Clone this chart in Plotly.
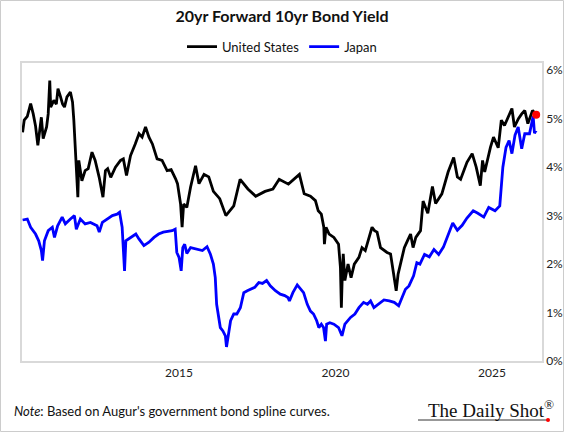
import plotly.graph_objects as go

# ---------------- data ----------------
us_dates = [
    "2010-01-01","2010-01-20","2010-02-25","2010-04-05","2010-05-05","2010-06-01","2010-06-28","2010-07-23",
    "2010-08-08","2010-08-29","2010-10-08","2010-10-27","2010-11-14","2010-11-25","2011-01-01","2011-01-30",
    "2011-02-18","2011-03-15","2011-04-13","2011-05-05","2011-06-03","2011-07-13","2011-08-07","2011-08-22",
    "2011-09-13","2011-10-08","2011-10-19","2011-11-24","2012-01-01","2012-02-06","2012-03-21","2012-04-27",
    "2012-06-13","2012-07-27","2012-08-25","2012-09-20","2012-10-26","2012-12-20","2013-02-17","2013-03-22",
    "2013-04-28","2013-06-14","2013-08-08","2013-09-21","2013-10-27","2013-12-06","2014-01-15","2014-02-24",
    "2014-04-20","2014-06-17","2014-08-15","2014-10-01","2014-11-22","2014-12-14","2015-01-19","2015-02-06",
    "2015-02-24","2015-04-02","2015-05-16","2015-07-13","2015-08-22","2015-10-20","2015-12-14","2016-02-06",
    "2016-04-20","2016-07-01","2016-10-01","2016-12-14","2017-03-15","2017-06-14","2017-10-01","2018-01-01",
    "2018-03-15","2018-07-01","2018-11-06","2019-01-01","2019-03-15","2019-05-12","2019-06-14","2019-07-20",
    "2019-08-18","2019-08-25","2019-09-13","2019-10-19","2019-12-14","2020-02-06","2020-02-28","2020-03-10",
    "2020-03-21","2020-04-01","2020-04-20","2020-05-27","2020-07-01","2020-08-08","2020-10-01","2020-11-06",
    "2020-12-14","2021-01-26","2021-03-03","2021-04-01","2021-05-01","2021-06-10","2021-07-20","2021-08-25",
    "2021-10-05","2021-11-06","2021-12-10","2022-01-01","2022-02-06","2022-03-15","2022-04-20","2022-05-27",
    "2022-06-25","2022-07-27","2022-09-20","2022-10-20","2022-12-14","2023-02-06","2023-03-15","2023-05-27",
    "2023-08-08","2023-10-12","2023-11-24","2024-01-01","2024-03-15","2024-05-15","2024-07-01","2024-08-18",
    "2024-09-13","2024-10-08","2024-12-14","2025-01-19","2025-03-15","2025-04-20","2025-05-27","2025-08-22",
    "2025-09-20","2025-11-06","2025-12-14","2026-01-19","2026-02-24","2026-04-20","2026-06-01",
]
us_values = [
    4.72,4.97,5.05,5.31,5.10,4.85,4.45,4.75,
    5.03,4.59,4.83,5.10,5.79,5.24,5.38,5.30,
    5.62,5.48,5.30,5.24,5.45,5.55,5.34,4.97,
    4.21,3.38,4.14,3.72,3.93,3.97,4.31,4.14,
    3.79,3.38,3.93,3.97,3.79,4.00,4.14,4.17,
    3.83,4.24,4.48,4.69,4.62,4.83,4.62,4.48,
    4.17,4.14,3.93,3.95,3.76,3.66,3.24,2.76,
    3.24,3.17,3.59,4.03,3.66,3.85,3.80,3.50,
    3.35,3.00,3.20,3.75,3.55,3.40,3.50,3.55,
    3.75,3.65,3.85,3.45,3.40,3.31,3.10,3.03,
    2.76,2.41,2.76,2.62,2.55,2.41,1.93,1.10,
    1.79,2.21,1.66,2.00,1.72,2.00,2.14,2.34,
    2.28,2.55,2.76,2.69,2.66,2.34,2.28,2.24,
    2.21,1.86,1.45,1.79,2.07,2.34,2.48,2.62,
    2.34,2.55,2.69,3.30,3.05,3.60,3.25,3.45,
    3.90,4.20,3.80,3.75,4.10,4.28,4.00,3.62,
    4.14,3.90,4.41,4.62,4.40,4.97,4.86,5.21,
    4.83,5.00,5.10,5.17,4.90,5.17,5.08,
]

jp_dates = [
    "2010-01-01","2010-02-25","2010-04-05","2010-06-01","2010-07-08","2010-08-08","2010-08-22","2010-09-13",
    "2010-10-27","2010-12-14","2011-01-08","2011-02-14","2011-04-08","2011-05-15","2011-07-13","2011-08-29",
    "2011-09-20","2011-11-06","2012-01-01","2012-03-03","2012-05-19","2012-06-14","2012-07-20","2012-09-13",
    "2012-11-14","2013-01-08","2013-02-06","2013-03-08","2013-04-05","2013-04-20","2013-06-14","2013-08-15",
    "2013-09-20","2013-11-17","2014-01-15","2014-03-15","2014-05-08","2014-07-01","2014-10-12","2014-11-17",
    "2014-12-06","2015-01-01","2015-01-26","2015-02-14","2015-03-08","2015-04-02","2015-05-16","2015-07-20",
    "2015-10-01","2015-11-24","2016-01-01","2016-02-06","2016-02-28","2016-03-15","2016-04-08","2016-04-27",
    "2016-05-27","2016-06-25","2016-07-08","2016-07-31","2016-08-25","2016-10-01","2016-11-06","2016-12-17",
    "2017-01-26","2017-03-08","2017-04-20","2017-06-03","2017-07-20","2017-09-01","2017-10-19","2017-12-01",
    "2018-01-30","2018-03-28","2018-05-19","2018-06-25","2018-07-13","2018-08-22","2018-10-12","2018-11-17",
    "2018-12-25","2019-02-06","2019-03-15","2019-04-20","2019-05-27","2019-06-21","2019-07-20","2019-08-15",
    "2019-09-06","2019-09-20","2019-10-27","2019-12-14","2020-02-06","2020-03-17","2020-04-20","2020-06-25",
    "2020-08-15","2020-10-01","2020-11-24","2021-01-08","2021-02-14","2021-03-25","2021-05-19","2021-07-20",
    "2021-09-20","2021-11-17","2022-01-08","2022-02-17","2022-03-28","2022-05-08","2022-07-01","2022-08-08",
    "2022-09-13","2022-11-06","2023-01-01","2023-02-24","2023-04-20","2023-06-14","2023-08-08","2023-10-01",
    "2023-11-24","2024-01-19","2024-03-15","2024-05-27","2024-07-20","2024-09-27","2024-11-24","2025-02-06",
    "2025-04-02","2025-04-20","2025-05-08","2025-06-14","2025-07-20","2025-08-22","2025-09-27","2025-11-03",
    "2025-12-14","2026-01-19","2026-03-15","2026-04-27","2026-05-12","2026-06-01",
]
jp_values = [
    2.91,2.93,2.76,2.62,2.48,2.28,2.07,2.48,
    2.69,2.76,2.55,2.79,2.97,2.83,2.93,3.00,
    2.72,2.93,2.83,2.86,2.79,2.66,2.86,2.93,
    3.00,3.03,3.07,2.76,1.86,2.48,2.55,2.62,
    2.52,2.38,2.45,2.55,2.62,2.66,2.69,2.72,
    2.24,2.14,1.86,2.34,2.41,2.22,2.34,2.31,
    2.28,2.36,2.21,2.00,1.72,1.17,0.90,0.69,
    0.62,0.52,0.29,0.55,0.83,0.97,0.97,1.10,
    1.41,1.45,1.48,1.52,1.62,1.60,1.66,1.55,
    1.45,1.38,1.35,1.31,1.24,1.41,1.57,1.48,
    1.41,1.17,1.03,0.97,0.83,0.69,0.76,0.69,
    0.41,0.76,0.79,0.76,0.69,0.52,0.76,0.90,
    0.97,1.10,1.21,1.17,1.24,1.10,1.17,1.26,
    1.24,1.21,1.14,1.31,1.48,1.55,1.76,2.03,
    2.00,2.20,2.15,2.30,2.20,2.35,2.60,2.85,
    2.70,2.80,2.95,3.10,3.05,2.97,3.17,3.10,
    3.20,3.59,4.00,4.41,4.55,4.28,4.66,4.83,
    4.38,4.69,4.69,5.05,4.70,4.76,
]

x_tick_vals = ["2015-01-01", "2020-01-01", "2025-01-01"]
x_tick_text = ["2015", "2020", "2025"]
y_tick_vals = [0, 1, 2, 3, 4, 5, 6]
y_tick_text = ["0%", "1%", "2%", "3%", "4%", "5%", "6%"]

FONT = "Lato"

fig = go.Figure()
fig.add_trace(go.Scatter(x=us_dates, y=us_values, mode="lines", name="United States",
                         line=dict(color="#000000", width=2.8)))
fig.add_trace(go.Scatter(x=jp_dates, y=jp_values, mode="lines", name="Japan",
                         line=dict(color="#0000ff", width=2.8)))
fig.add_trace(go.Scatter(x=[us_dates[-1]], y=[us_values[-1]], mode="markers", showlegend=False,
                         marker=dict(color="#ff0000", size=8)))

fig.update_layout(
    width=564, height=432,
    margin=dict(l=22, r=22, t=63, b=71, autoexpand=False),
    paper_bgcolor="white", plot_bgcolor="white",
    font=dict(family=FONT, color="#222222"),
    title=dict(text="<b>20yr Forward 10yr Bond Yield</b>", x=0.5, xanchor="center",
               y=0.962, yanchor="middle", font=dict(size=16, color="#111111", family=FONT)),
    legend=dict(orientation="h", x=0.5, xanchor="center", y=1.055, yanchor="middle",
                font=dict(size=13, color="#111111", family=FONT), itemwidth=30,
                bgcolor="rgba(0,0,0,0)"),
    showlegend=True,
)
fig.update_xaxes(type="date", range=["2009-12-25", "2026-08-08"], automargin=False,
                 tickvals=x_tick_vals, ticktext=x_tick_text, ticks="",
                 showgrid=False, zeroline=False, showline=True, mirror=True,
                 linecolor="#d9d9d9", linewidth=1.5,
                 tickfont=dict(size=12, color="#222222", family=FONT))
fig.update_yaxes(range=[0, 6.15], side="right", tickvals=y_tick_vals, ticktext=y_tick_text,
                 automargin=False, ticks="", showgrid=False, zeroline=False, showline=True, mirror=True,
                 linecolor="#d9d9d9", linewidth=1.5,
                 tickfont=dict(size=12, color="#222222", family=FONT))

# outer image border
fig.add_shape(type="rect", xref="paper", yref="paper",
              x0=-21.5/520, x1=541.5/520, y0=-70.5/298, y1=360.5/298,
              line=dict(color="#cccccc", width=1), fillcolor="rgba(0,0,0,0)", layer="below")

# note
fig.add_annotation(xref="paper", yref="paper", x=-10.5/520, y=(361-411)/298,
                   xanchor="left", yanchor="middle", showarrow=False,
                   text="<i>Note</i>: Based on Augur's government bond spline curves.",
                   font=dict(size=13, color="#111111", family=FONT))
# logo
fig.add_annotation(xref="paper", yref="paper", x=(556-22)/520, y=(361-409)/298,
                   xanchor="right", yanchor="middle", showarrow=False,
                   text="The Daily Shot<sup>®</sup>",
                   font=dict(size=19, color="#111111", family="Liberation Serif"))
fig.add_shape(type="line", xref="paper", yref="paper",
              x0=(418-22)/520, x1=(549-22)/520, y0=(361-420)/298, y1=(361-420)/298,
              line=dict(color="#333333", width=1))
fig.add_shape(type="circle", xref="paper", yref="paper",
              x0=(546-22)/520, x1=(550-22)/520, y0=(361-422)/298, y1=(361-418)/298,
              line=dict(color="#ff0000", width=0), fillcolor="#ff0000")

fig.write_html("out.html")
